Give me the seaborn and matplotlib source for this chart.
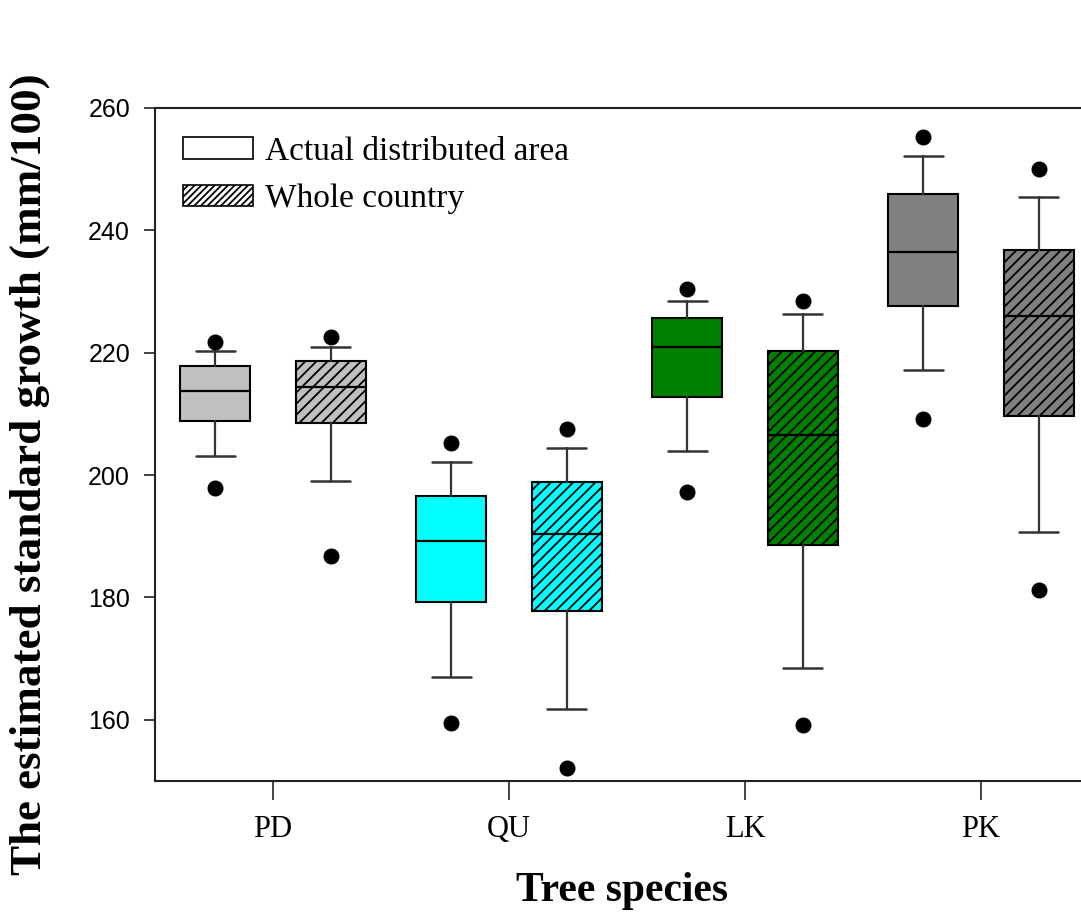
import matplotlib
matplotlib.use("Agg")
import matplotlib.pyplot as plt
import seaborn as sns
from matplotlib.patches import Patch

# ---- data ----
categories = ["PD", "QU", "LK", "PK"]
groups = ["Actual distributed area", "Whole country"]
colors = ["#c0c0c0", "#00ffff", "#008000", "#808080"]

actual_whislo = [203.2, 167.0, 203.9, 217.2]
actual_q1 = [208.9, 179.3, 212.7, 227.7]
actual_med = [213.7, 189.3, 220.9, 236.5]
actual_q3 = [217.9, 196.6, 225.6, 245.9]
actual_whishi = [220.3, 202.1, 228.5, 252.2]
actual_out_lo = [197.9, 159.5, 197.3, 209.1]
actual_out_hi = [221.7, 205.2, 230.4, 255.2]

whole_whislo = [199.1, 161.8, 168.5, 190.7]
whole_q1 = [208.5, 177.8, 188.5, 209.6]
whole_med = [214.4, 190.3, 206.5, 226.0]
whole_q3 = [218.6, 198.8, 220.3, 236.8]
whole_whishi = [221.0, 204.4, 226.3, 245.4]
whole_out_lo = [186.8, 152.1, 159.2, 181.2]
whole_out_hi = [222.5, 207.5, 228.4, 250.1]

yticks = [160, 180, 200, 220, 240, 260]

sns.set_style("ticks")
plt.rcParams.update({
    "hatch.linewidth": 1.3,
    "text.color": "black",
    "axes.labelcolor": "black",
    "xtick.color": "black",
    "ytick.color": "black",
})
serif = ["Liberation Serif", "DejaVu Serif"]
sans = ["Liberation Sans", "DejaVu Sans"]

fig = plt.figure(figsize=(10.81, 9.16), dpi=100)
ax = fig.add_axes([0.1434, 0.1474, 0.8733, 0.7347])

series = [
    (actual_whislo, actual_q1, actual_med, actual_q3, actual_whishi, actual_out_lo, actual_out_hi),
    (whole_whislo, whole_q1, whole_med, whole_q3, whole_whishi, whole_out_lo, whole_out_hi),
]
offsets = [-0.245, 0.245]
hatch_for = [None, "///"]

stats, positions, faces, hatches = [], [], [], []
for i, cat in enumerate(categories):
    for j, s in enumerate(series):
        wl, q1, md, q3, wh, olo, ohi = (arr[i] for arr in s)
        stats.append(dict(med=md, q1=q1, q3=q3, whislo=wl, whishi=wh,
                          fliers=[olo, ohi], label=f"{cat} {groups[j]}"))
        positions.append(i + offsets[j])
        faces.append(colors[i])
        hatches.append(hatch_for[j])

bp = ax.bxp(stats, positions=positions, widths=0.296, capwidths=0.165,
            patch_artist=True, showfliers=True, manage_ticks=False,
            boxprops=dict(edgecolor="black", linewidth=1.5),
            medianprops=dict(color="black", linewidth=1.6),
            whiskerprops=dict(color="#333333", linewidth=1.6),
            capprops=dict(color="#333333", linewidth=1.8),
            flierprops=dict(marker="o", markerfacecolor="black",
                            markeredgecolor="black", markersize=10.5))
for patch, fc, h in zip(bp["boxes"], faces, hatches):
    patch.set_facecolor(fc)
    if h:
        patch.set_hatch(h)

ax.set_xlim(-0.5, 3.5)
ax.set_ylim(150, 260)
ax.set_xticks(range(len(categories)))
ax.set_xticklabels(categories, family=serif, fontsize=22, color="black")
ax.set_yticks(yticks)
ax.set_yticklabels([str(t) for t in yticks], family=sans, fontsize=18, color="black")
ax.tick_params(axis="x", direction="out", length=13.5, width=1.2, pad=11, color="#222222")
ax.tick_params(axis="y", direction="out", length=8, width=1.2, pad=10, color="#222222")

for side in ["left", "bottom", "top"]:
    ax.spines[side].set_linewidth(1.5)
    ax.spines[side].set_color("#222222")
ax.spines["right"].set_visible(False)

ax.set_ylabel("The estimated standard growth (mm/100)", family=serif,
              fontweight="bold", fontsize=32.5, color="black")
ax.yaxis.set_label_coords(-0.111, 0.456)
ax.set_xlabel("Tree species", family=serif, fontweight="bold", fontsize=30, color="black")
ax.xaxis.set_label_coords(0.495, -0.135)

handles = [Patch(facecolor="white", edgecolor="black", linewidth=1.2),
           Patch(facecolor="white", edgecolor="black", linewidth=1.2, hatch="/////")]
ax.legend(handles, groups, loc="upper left", bbox_to_anchor=(0.0297, 0.958),
          frameon=False, borderaxespad=0, borderpad=0, handlelength=2.1,
          handleheight=0.6, handletextpad=0.36, labelspacing=0.5,
          prop=dict(family=serif, size=24))

fig.savefig("out.png", dpi=100)
